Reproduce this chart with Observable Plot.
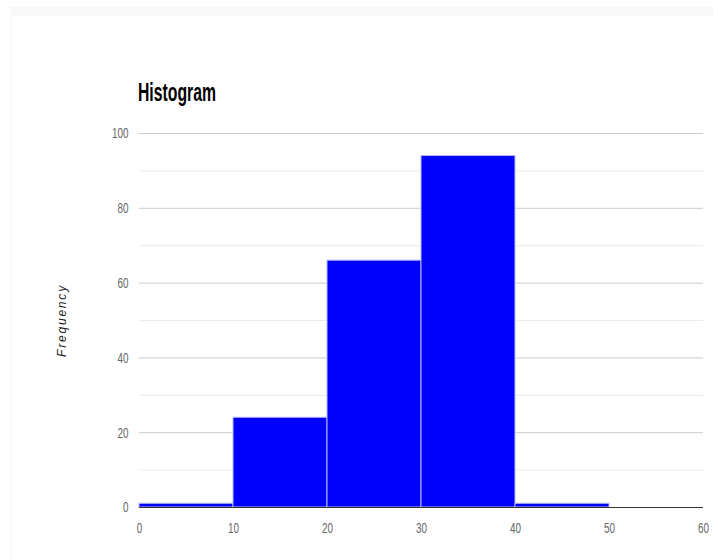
<!DOCTYPE html>
<html>
<head>
<meta charset="utf-8">
<script src="https://cdn.jsdelivr.net/npm/d3@7"></script>
<script src="https://cdn.jsdelivr.net/npm/@observablehq/plot@0.6"></script>
<style>
  html, body { margin: 0; padding: 0; background: #fff; }
  #wrap { position: relative; width: 718px; height: 560px; overflow: hidden; }
  #frame { position: absolute; left: 10px; top: 7px; width: 703px; height: 560px;
           border-top: 9px solid #f8f8f8; border-left: 2px solid #f8f8f8; box-sizing: border-box; }
  #title { position: absolute; left: 138px; top: 80px; font-family: "Liberation Sans", Arial, sans-serif;
           font-weight: bold; font-size: 25px; line-height: 25px; color: #000;
           transform: scaleX(0.63); transform-origin: left top; white-space: nowrap; }
  #chart { position: absolute; left: 0; top: 120px; }
</style>
</head>
<body>
<div id="wrap">
  <div id="frame"></div>
  <div id="title">Histogram</div>
  <div id="chart"></div>
</div>
<script>
const binStart = [0, 10, 20, 30, 40, 50];
const binEnd = [10, 20, 30, 40, 50, 60];
const counts = [1, 24, 66, 94, 1, 0];
const xTicks = [0, 10, 20, 30, 40, 50, 60];
const yTicks = [0, 20, 40, 60, 80, 100];
const yMinor = [10, 30, 50, 70, 90];
const yLabel = "Frequency";

const bins = binStart.map((s, i) => ({x1: s, x2: binEnd[i], count: counts[i]}));

const chart = Plot.plot({
  width: 718,
  height: 440,
  marginLeft: 139,
  marginRight: 15,
  marginTop: 13,
  marginBottom: 53,
  style: {fontFamily: '"Liberation Sans", Arial, sans-serif', fontSize: "15px", color: "#666", background: "transparent"},
  x: {domain: [0, 60], ticks: xTicks, tickSize: 0, tickPadding: 15, label: null},
  y: {domain: [0, 100], ticks: yTicks, tickSize: 0, tickPadding: 11, label: null},
  marks: [
    Plot.ruleY(yMinor, {stroke: "#ebebeb"}),
    Plot.ruleY(yTicks.filter(d => d > 0), {stroke: "#cccccc"}),
    Plot.rectY(bins.filter(d => d.count > 0), {x1: "x1", x2: "x2", y: "count", fill: "#0000ff", stroke: "#b8b8ff", strokeWidth: 1, inset: 0}),
    Plot.ruleY([0], {stroke: "#333"}),
    Plot.text([yLabel], {frameAnchor: "left", textAnchor: "middle", rotate: -90, dx: -77, fontStyle: "italic", fontSize: 12,
      fontFamily: '"Liberation Sans", Arial, sans-serif', fill: "#222"})
  ]
});
const svg = d3.select(chart);
svg.selectAll("text").filter(function() { return this.textContent === yLabel; })
  .style("letter-spacing", "1.8px");
svg.selectAll("g[aria-label='x-axis tick label'] text, g[aria-label='y-axis tick label'] text")
  .each(function() {
    const t = this.getAttribute("transform") || "";
    this.setAttribute("transform", (t + " scale(0.66,1)").trim());
  });
document.getElementById("chart").appendChild(chart);
</script>
</body>
</html>
